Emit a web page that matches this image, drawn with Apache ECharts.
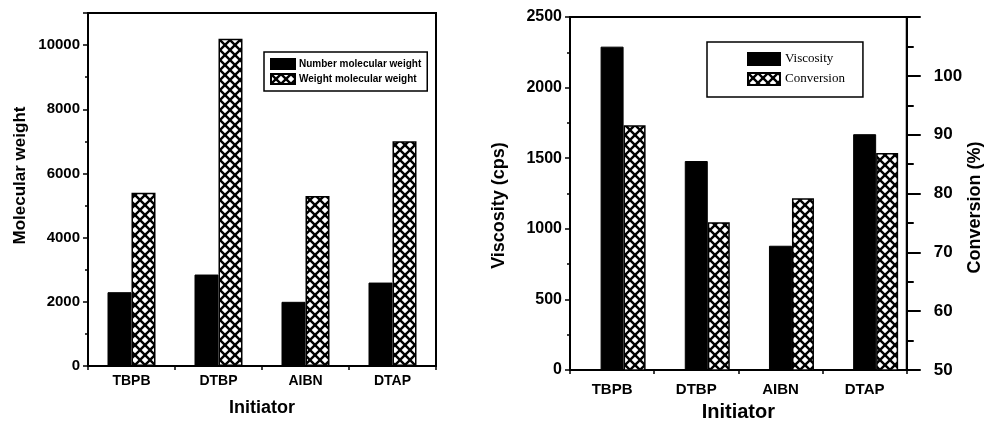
<!DOCTYPE html>
<html>
<head>
<meta charset="utf-8">
<script src="https://cdn.jsdelivr.net/npm/echarts@6/dist/echarts.min.js"></script>
<style>
  html, body { margin: 0; padding: 0; background: #fff; }
  #chart { width: 985px; height: 427px; }
</style>
</head>
<body>
<div id="chart"></div>
<script>
// Initiators compared in both panels
const initiators = ['TBPB', 'DTBP', 'AIBN', 'DTAP'];

// Left panel: molecular weights
const numberMolecularWeight = [2300, 2850, 2000, 2600];
const weightMolecularWeight = [5400, 10200, 5300, 7000];
const mwTicks = { min: 0, max: 11000, step: 2000, lastLabel: 10000 };

// Right panel: viscosity (cps) and conversion (%)
const viscosity = [2290, 1480, 880, 1670];
const conversion = [91.6, 75.1, 79.2, 86.9];
const viscTicks = { min: 0, max: 2500, step: 500 };
const convTicks = { min: 50, max: 110, step: 10, lastLabel: 100 };

// Cross-hatch tile (white diamonds on black lines)
function hatch(size, lw) {
  const c = document.createElement('canvas');
  c.width = c.height = size;
  const g = c.getContext('2d');
  g.fillStyle = '#fff';
  g.fillRect(0, 0, size, size);
  g.strokeStyle = '#000';
  g.lineWidth = lw;
  for (const o of [-size, 0, size]) {
    g.beginPath(); g.moveTo(o, 0); g.lineTo(o + size, size); g.stroke();
    g.beginPath(); g.moveTo(o + size, 0); g.lineTo(o, size); g.stroke();
  }
  return c;
}
const hatchFill = { image: hatch(10, 2.4), repeat: 'repeat' };

const sans = '"Liberation Sans", Arial, sans-serif';
const serif = '"Liberation Serif", "Times New Roman", serif';

function xAxisFor(gridIndex, fontSize, margin, nameSize, nameGap) {
  return {
    type: 'category',
    gridIndex,
    data: initiators,
    axisLine: { lineStyle: { color: '#000', width: 2 } },
    axisTick: { show: true, length: 4, lineStyle: { color: '#000', width: 1.5 } },
    axisLabel: { color: '#000', fontFamily: sans, fontWeight: 'bold', fontSize, margin },
    name: 'Initiator',
    nameLocation: 'middle',
    nameGap,
    nameTextStyle: { color: '#000', fontFamily: sans, fontWeight: 'bold', fontSize: nameSize },
    splitLine: { show: false }
  };
}

const chart = echarts.init(document.getElementById('chart'));
chart.setOption({
  animation: false,
  backgroundColor: '#fff',
  grid: [
    { left: 88, top: 13, width: 348, height: 353, show: true, borderColor: '#000', borderWidth: 2, backgroundColor: 'transparent' },
    { left: 570, top: 17, width: 346, height: 355, show: true, borderColor: '#000', borderWidth: 2, backgroundColor: 'transparent' }
  ],
  legend: [
    {
      orient: 'vertical',
      left: 264, top: 52,
      padding: [6, 6, 6, 6],
      itemGap: 3,
      itemWidth: 24, itemHeight: 10,
      borderColor: '#000', borderWidth: 1.5,
      icon: 'rect',
      textStyle: { color: '#000', fontFamily: sans, fontWeight: 'bold', fontSize: 10, padding: [0, 0, 0, -1] },
      data: ['Number molecular weight', 'Weight molecular weight']
    },
    {
      orient: 'vertical',
      left: 707, top: 42,
      padding: [10, 18, 11, 40],
      itemGap: 6,
      itemWidth: 32, itemHeight: 12,
      borderColor: '#000', borderWidth: 1.5,
      icon: 'rect',
      textStyle: { color: '#000', fontFamily: serif, fontSize: 13 },
      data: ['Viscosity', 'Conversion']
    }
  ],
  xAxis: [
    xAxisFor(0, 14, 8, 18, 33),
    xAxisFor(1, 15, 12, 20, 32)
  ],
  yAxis: [
    {
      type: 'value', gridIndex: 0,
      min: mwTicks.min, max: mwTicks.max, interval: mwTicks.step,
      axisLine: { show: true, lineStyle: { color: '#000', width: 2 } },
      axisTick: { show: true, length: 5, lineStyle: { color: '#000', width: 1.5 } },
      minorTick: { show: true, splitNumber: 2, length: 3, lineStyle: { color: '#000', width: 1.5 } },
      axisLabel: {
        color: '#000', fontFamily: sans, fontWeight: 'bold', fontSize: 15, margin: 8,
        formatter: v => (v > mwTicks.lastLabel ? '' : String(v))
      },
      splitLine: { show: false },
      name: 'Molecular weight',
      nameLocation: 'middle', nameRotate: 90, nameGap: 59,
      nameTextStyle: { color: '#000', fontFamily: sans, fontWeight: 'bold', fontSize: 17, padding: [0, 0, 0, 28] }
    },
    {
      type: 'value', gridIndex: 1, position: 'left',
      min: viscTicks.min, max: viscTicks.max, interval: viscTicks.step,
      axisLine: { show: true, lineStyle: { color: '#000', width: 2 } },
      axisTick: { show: true, length: 5, lineStyle: { color: '#000', width: 1.5 } },
      minorTick: { show: true, splitNumber: 2, length: 3, lineStyle: { color: '#000', width: 1.5 } },
      axisLabel: {
        color: '#000', fontFamily: sans, fontWeight: 'bold', fontSize: 16, margin: 8,
        formatter: v => String(v)
      },
      splitLine: { show: false },
      name: 'Viscosity (cps)',
      nameLocation: 'middle', nameRotate: 90, nameGap: 62,
      nameTextStyle: { color: '#000', fontFamily: sans, fontWeight: 'bold', fontSize: 18, padding: [0, 24, 0, 0] }
    },
    {
      type: 'value', gridIndex: 1, position: 'right',
      min: convTicks.min, max: convTicks.max, interval: convTicks.step,
      axisLine: { show: true, lineStyle: { color: '#000', width: 2 } },
      axisTick: { show: true, length: 14, lineStyle: { color: '#000', width: 2 } },
      minorTick: { show: true, splitNumber: 2, length: 7, lineStyle: { color: '#000', width: 2 } },
      axisLabel: {
        color: '#000', fontFamily: sans, fontWeight: 'bold', fontSize: 17, margin: 27,
        formatter: v => (v > convTicks.lastLabel ? '' : String(v))
      },
      splitLine: { show: false },
      name: 'Conversion (%)',
      nameLocation: 'middle', nameRotate: 90, nameGap: 51,
      nameTextStyle: { color: '#000', fontFamily: sans, fontWeight: 'bold', fontSize: 18, padding: [0, 28, 0, 0] }
    }
  ],
  series: [
    {
      name: 'Number molecular weight', type: 'bar',
      xAxisIndex: 0, yAxisIndex: 0,
      data: numberMolecularWeight,
      barWidth: 24, barGap: '0%',
      itemStyle: { color: '#000', borderColor: '#000', borderWidth: 1 }
    },
    {
      name: 'Weight molecular weight', type: 'bar',
      xAxisIndex: 0, yAxisIndex: 0,
      data: weightMolecularWeight,
      barWidth: 24, barGap: '0%',
      itemStyle: { color: hatchFill, borderColor: '#000', borderWidth: 1.5 }
    },
    {
      // empty slot on the left so the viscosity bar sits on the category centre
      name: 'slot', type: 'bar',
      xAxisIndex: 1, yAxisIndex: 1,
      data: initiators.map(() => null),
      barWidth: 22, barGap: '0%', silent: true
    },
    {
      name: 'Viscosity', type: 'bar',
      xAxisIndex: 1, yAxisIndex: 1,
      data: viscosity,
      barWidth: 23, barGap: '0%',
      itemStyle: { color: '#000', borderColor: '#000', borderWidth: 1 }
    },
    {
      name: 'Conversion', type: 'bar',
      xAxisIndex: 1, yAxisIndex: 2,
      data: conversion,
      barWidth: 22, barGap: '0%',
      itemStyle: { color: hatchFill, borderColor: '#000', borderWidth: 1.5 }
    }
  ]
});
</script>
</body>
</html>
